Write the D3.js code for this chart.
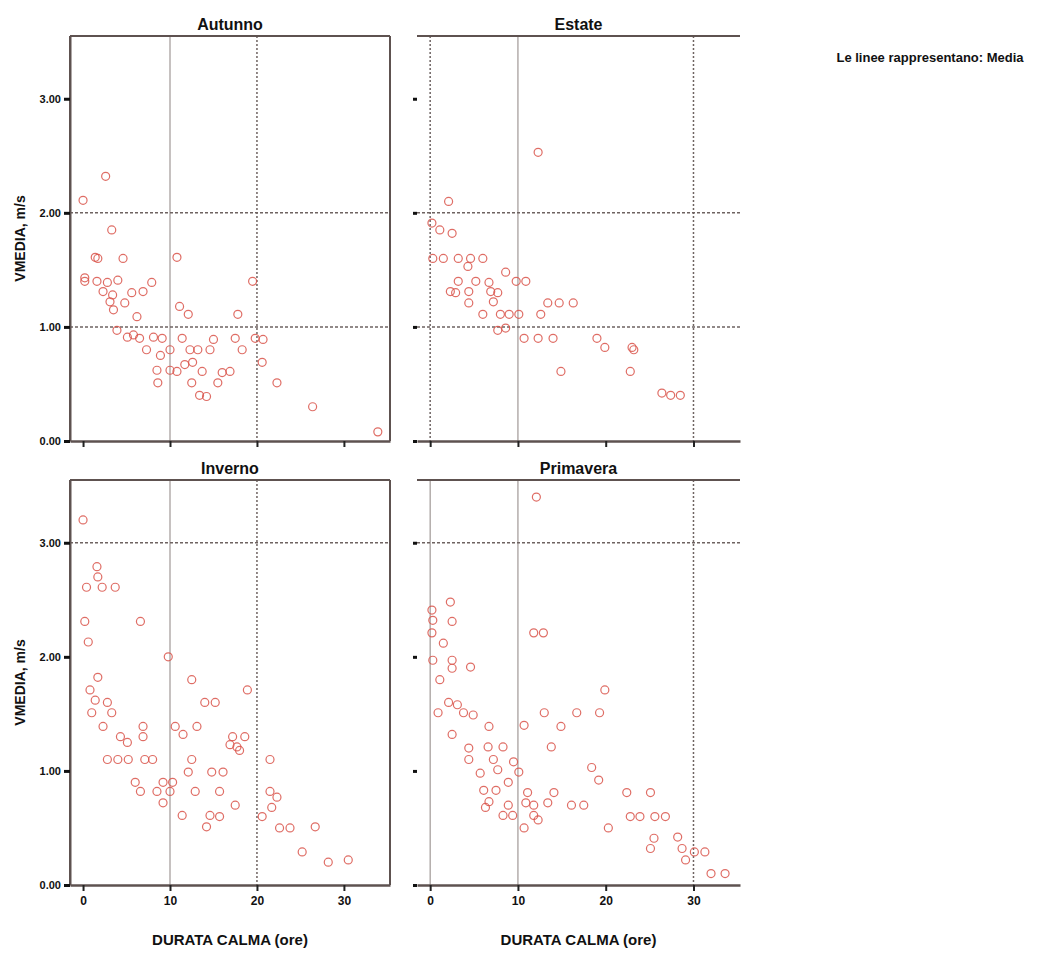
<!DOCTYPE html>
<html><head><meta charset="utf-8">
<script src="https://cdn.jsdelivr.net/npm/d3@7"></script>
<style>body{margin:0;background:#fff}text{font-family:"Liberation Sans Narrow","Liberation Sans",Arial,sans-serif}</style>
</head><body><svg id="c" width="1053" height="968"></svg>
<script>
const seasons = ["Autunno","Estate","Inverno","Primavera"];
const xTicks = [0,10,20,30];
const yTicks = [0,1,2,3];
const xLabel = "DURATA CALMA (ore)";
const yLabel = "VMEDIA, m/s";
const note = "Le linee rappresentano: Media";

const autunnoX = [0,2.6,3.3,1.4,4.6,10.8,0.2,1.6,2.8,4.0,7.9,6.9,2.3,5.6,19.5,3.1,4.8,3.5,11.1,12.1,17.8,6.2,3.9,5.8,6.5,8.1,9.1,11.4,15,17.5,19.8,7.3,10,12.3,13.2,14.6,18.3,12.6,20.6,8.5,10,10.8,13.7,16,16.9,8.6,12.5,15.5,13.4,14.2,22.3,26.4,33.9,1.7,0.2,3.4,5.1,8.9,11.7,20.7];
const autunnoY = [2.11,2.32,1.85,1.61,1.6,1.61,1.4,1.4,1.39,1.41,1.39,1.31,1.31,1.30,1.4,1.22,1.21,1.15,1.18,1.11,1.11,1.09,0.97,0.93,0.9,0.91,0.9,0.9,0.89,0.9,0.9,0.8,0.8,0.8,0.8,0.8,0.8,0.69,0.69,0.62,0.62,0.61,0.61,0.6,0.61,0.51,0.51,0.51,0.4,0.39,0.51,0.3,0.08,1.6,1.43,1.28,0.91,0.75,0.67,0.89];
const estateX = [12.3,2.1,0.2,1.1,2.5,0.3,1.5,3.2,4.6,6.0,4.3,8.6,9.8,10.9,3.2,5.2,6.7,2.3,4.4,6.9,7.7,2.9,7.2,4.4,13.4,14.7,16.3,6.0,8.0,9.0,10.1,12.6,7.7,8.6,10.7,12.3,14.0,19.0,19.9,23,23.2,14.9,22.8,26.4,27.4,28.5];
const estateY = [2.53,2.10,1.91,1.85,1.82,1.6,1.6,1.6,1.6,1.6,1.53,1.48,1.4,1.4,1.4,1.4,1.39,1.31,1.31,1.31,1.3,1.3,1.22,1.21,1.21,1.21,1.21,1.11,1.11,1.11,1.11,1.11,0.97,0.99,0.9,0.9,0.9,0.9,0.82,0.82,0.8,0.61,0.61,0.42,0.4,0.4];
const invernoX = [0,1.6,1.7,0.4,2.2,3.7,0.2,6.6,0.6,9.8,1.7,12.5,0.8,18.9,1.4,2.8,14.0,15.2,1.0,3.3,2.3,6.9,10.6,13.1,4.3,6.9,11.5,17.2,18.6,5.1,16.9,17.7,18,2.8,4.0,5.2,7.1,8.0,12.5,21.5,14.8,16.1,12.1,6.0,9.2,10.3,6.6,8.5,10,12.9,15.7,21.5,22.3,9.2,17.5,21.7,11.4,14.6,15.7,20.6,14.2,22.6,23.8,26.7,25.2,28.2,30.5];
const invernoY = [3.2,2.79,2.70,2.61,2.61,2.61,2.31,2.31,2.13,2.0,1.82,1.8,1.71,1.71,1.62,1.6,1.6,1.6,1.51,1.51,1.39,1.39,1.39,1.39,1.3,1.3,1.32,1.3,1.3,1.25,1.23,1.21,1.18,1.1,1.1,1.1,1.1,1.1,1.1,1.1,0.99,0.99,0.99,0.9,0.9,0.9,0.82,0.82,0.82,0.82,0.82,0.82,0.77,0.72,0.7,0.68,0.61,0.61,0.6,0.6,0.51,0.5,0.5,0.51,0.29,0.2,0.22];
const primaveraX = [12.1,2.3,0.2,0.3,2.5,0.2,11.8,12.9,1.5,0.3,2.5,4.6,2.5,1.1,19.9,2.1,3.1,0.9,3.8,4.9,13.0,16.7,19.3,6.7,10.7,14.9,2.5,13.8,4.4,6.6,8.3,4.4,7.2,9.5,18.4,5.7,7.7,10.1,19.2,8.9,6.1,7.5,22.4,25.1,11.1,14.1,6.7,8.9,10.9,11.8,13.4,16.1,17.5,6.3,8.3,9.4,11.8,22.8,23.9,25.6,26.8,12.3,10.7,20.3,25.5,28.2,25.1,28.7,30.1,31.3,29.1,32.0,33.6];
const primaveraY = [3.4,2.48,2.41,2.32,2.31,2.21,2.21,2.21,2.12,1.97,1.97,1.91,1.9,1.8,1.71,1.6,1.58,1.51,1.51,1.49,1.51,1.51,1.51,1.39,1.4,1.39,1.32,1.21,1.2,1.21,1.21,1.1,1.1,1.08,1.03,0.98,1.01,0.99,0.92,0.9,0.83,0.83,0.81,0.81,0.81,0.81,0.73,0.7,0.72,0.7,0.72,0.7,0.7,0.68,0.61,0.61,0.61,0.6,0.6,0.6,0.6,0.57,0.5,0.5,0.41,0.42,0.32,0.32,0.29,0.29,0.22,0.1,0.1];

const seriesX = [autunnoX, estateX, invernoX, primaveraX];
const seriesY = [autunnoY, estateY, invernoY, primaveraY];
// reference lines per panel
const vSolid = [[10],[10],[10],[0,10]];
const vDash = [[20],[0,30],[20],[30]];
const hDash = [[1,2],[1,2],[3],[3]];

const svg = d3.select("#c");
const lineCol = "#5e5250";
const ptCol = "#d9534a";
const panels = [
  {x0:70,x1:390,y0:36,y1:441,col:0,row:0},
  {x0:417,x1:740,y0:36,y1:441,col:1,row:0},
  {x0:70,x1:390,y0:480,y1:885,col:0,row:1},
  {x0:417,x1:740,y0:480,y1:885,col:1,row:1}
];
panels.forEach((p,i)=>{
  const g = svg.append("g");
  const x = d3.scaleLinear().domain([-1.5,35.3]).range([p.x0,p.x1]);
  const y = d3.scaleLinear().domain([0,3.55]).range([p.y1,p.y0]);
  // reference lines
  vSolid[i].forEach(v=>g.append("line").attr("x1",x(v)).attr("x2",x(v)).attr("y1",p.y0).attr("y2",p.y1).attr("stroke","#a09896").attr("stroke-width",1.2));
  vDash[i].forEach(v=>g.append("line").attr("x1",x(v)).attr("x2",x(v)).attr("y1",p.y0).attr("y2",p.y1).attr("stroke","#6e6361").attr("stroke-width",1.5).attr("stroke-dasharray","2,2"));
  hDash[i].forEach(v=>g.append("line").attr("x1",p.x0).attr("x2",p.x1).attr("y1",y(v)).attr("y2",y(v)).attr("stroke","#6e6361").attr("stroke-width",1.5).attr("stroke-dasharray","3,2"));
  // frame
  g.append("line").attr("x1",p.x0).attr("x2",p.x1).attr("y1",p.y0).attr("y2",p.y0).attr("stroke",lineCol).attr("stroke-width",2);
  if(p.col===0){
    g.append("line").attr("x1",p.x0).attr("x2",p.x0).attr("y1",p.y0).attr("y2",p.y1).attr("stroke",lineCol).attr("stroke-width",2);
    g.append("line").attr("x1",p.x1).attr("x2",p.x1).attr("y1",p.y0).attr("y2",p.y1).attr("stroke",lineCol).attr("stroke-width",2);
  }
  // x axis
  const xa = g.append("g").attr("transform",`translate(0,${p.y1})`)
    .call(d3.axisBottom(x).tickValues(xTicks).tickSize(6).tickSizeOuter(0).tickFormat(p.row===1?d3.format("d"):""));
  xa.select(".domain").attr("stroke",lineCol).attr("stroke-width",2.5);
  xa.selectAll(".tick line").attr("stroke","#222").attr("stroke-width",2);
  xa.selectAll("text").attr("font-size",12).attr("font-weight","bold").attr("fill","#111").attr("dy","0.9em");
  // y axis
  const ya = g.append("g").attr("transform",`translate(${p.x0},0)`)
    .call(d3.axisLeft(y).tickValues(yTicks).tickSize(p.col===0?6:4).tickSizeOuter(0).tickFormat(p.col===0?d3.format(".2f"):""));
  ya.select(".domain").attr("stroke",p.col===0?lineCol:"none").attr("stroke-width",2);
  ya.selectAll(".tick line").attr("stroke","#111").attr("stroke-width",3);
  ya.selectAll("text").attr("font-size",11).attr("font-weight","bold").attr("fill","#111");
  // points
  g.append("g").selectAll("circle").data(d3.range(seriesX[i].length)).join("circle")
    .attr("cx",j=>x(seriesX[i][j])).attr("cy",j=>y(seriesY[i][j])).attr("r",4)
    .attr("fill","none").attr("stroke",ptCol).attr("stroke-width",1.2).attr("opacity",0.85);
  // title
  g.append("text").attr("x",(p.x0+p.x1)/2).attr("y",p.y0-6).attr("text-anchor","middle")
    .attr("font-size",16).attr("font-weight","bold").attr("fill","#111").text(seasons[i]);
  if(p.row===1){
    g.append("text").attr("x",(p.x0+p.x1)/2).attr("y",945).attr("text-anchor","middle")
      .attr("font-size",15).attr("font-weight","bold").attr("fill","#111").text(xLabel);
  }
  if(p.col===0){
    g.append("text").attr("transform",`translate(25,${(p.y0+p.y1)/2}) rotate(-90)`).attr("text-anchor","middle")
      .attr("font-size",14).attr("font-weight","bold").attr("fill","#111").text(yLabel);
  }
});
svg.append("text").attr("x",930).attr("y",62).attr("text-anchor","middle").attr("font-size",13)
  .attr("font-weight","bold").attr("fill","#111").text(note);
</script></body></html>
